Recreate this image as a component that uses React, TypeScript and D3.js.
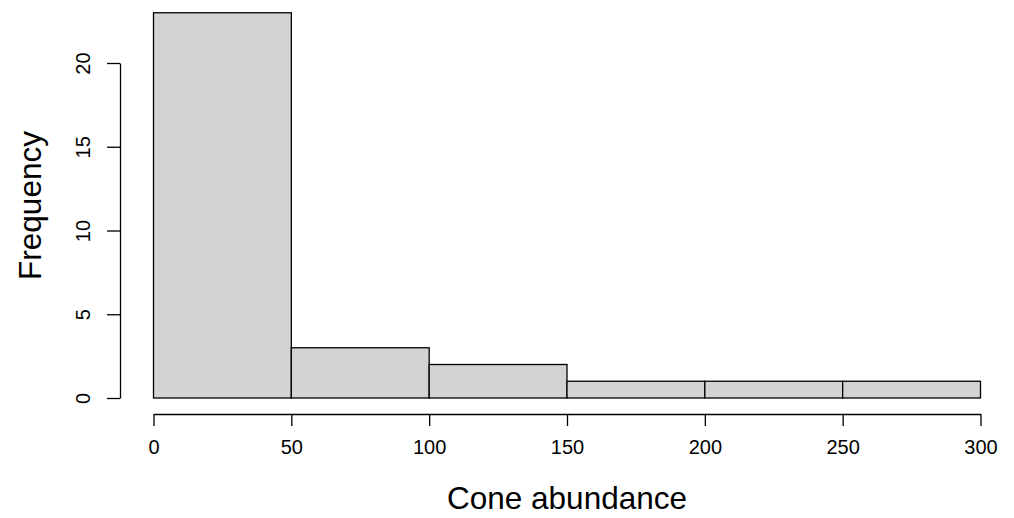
import React, { useRef, useEffect } from "react";
import * as d3 from "d3";

// histogram bins of cone abundance
const binStarts = [0, 50, 100, 150, 200, 250];
const binWidth = 50;
const counts = [23, 3, 2, 1, 1, 1];
const xTicks = [0, 50, 100, 150, 200, 250, 300];
const yTicks = [0, 5, 10, 15, 20];

const W = 1014;
const H = 518;
const FONT = "'Liberation Sans', Arial, sans-serif";

const App = () => {
  const ref = useRef<SVGSVGElement | null>(null);

  useEffect(() => {
    if (!ref.current) return;
    const svg = d3.select(ref.current);
    svg.selectAll("*").remove();

    const x = d3.scaleLinear().domain([0, 300]).range([153.5, 980.5]);
    const y = d3.scaleLinear().domain([0, 20]).range([398, 63]);

    svg.append("g")
      .selectAll("rect")
      .data(counts)
      .enter()
      .append("rect")
      .attr("x", (d, i) => x(binStarts[i]))
      .attr("y", d => y(d))
      .attr("width", (d, i) => x(binStarts[i] + binWidth) - x(binStarts[i]))
      .attr("height", d => y(0) - y(d))
      .attr("fill", "#d3d3d3")
      .attr("stroke", "#000")
      .attr("stroke-width", 1.3);

    // x axis
    const xAxis = svg.append("g")
      .attr("transform", "translate(0,414)")
      .call(d3.axisBottom(x).tickValues(xTicks).tickSize(12).tickPadding(14).tickSizeOuter(0));
    xAxis.select(".domain").attr("stroke", "#000").attr("stroke-width", 1.3);
    xAxis.selectAll(".tick line").attr("stroke", "#000").attr("stroke-width", 1.3);
    xAxis.selectAll(".tick text")
      .attr("font-family", FONT)
      .attr("font-size", 20)
      .attr("fill", "#000");

    // y axis, labels rotated like R's las=0
    const yAxis = svg.append("g")
      .attr("transform", "translate(120,0)")
      .call(d3.axisLeft(y).tickValues(yTicks).tickSize(13).tickSizeOuter(0));
    yAxis.select(".domain").attr("stroke", "#000").attr("stroke-width", 1.3);
    yAxis.selectAll(".tick line").attr("stroke", "#000").attr("stroke-width", 1.3);
    yAxis.selectAll(".tick text")
      .attr("font-family", FONT)
      .attr("font-size", 20)
      .attr("fill", "#000")
      .attr("x", 0)
      .attr("y", -37)
      .attr("dy", 0)
      .attr("text-anchor", "middle")
      .attr("dominant-baseline", "central")
      .attr("transform", "rotate(-90)");

    // axis titles
    svg.append("text")
      .attr("x", x(150))
      .attr("y", 509)
      .attr("text-anchor", "middle")
      .attr("font-family", FONT)
      .attr("font-size", 31.5)
      .text("Cone abundance");

    svg.append("text")
      .attr("transform", `translate(41,${(y(0) + 13) / 2}) rotate(-90)`)
      .attr("text-anchor", "middle")
      .attr("font-family", FONT)
      .attr("font-size", 31.5)
      .text("Frequency");
  }, []);

  return (
    <svg
      ref={ref}
      width={W}
      height={H}
      style={{ position: "absolute", left: 0, top: 0, background: "#fff" }}
    />
  );
};

export default App;
